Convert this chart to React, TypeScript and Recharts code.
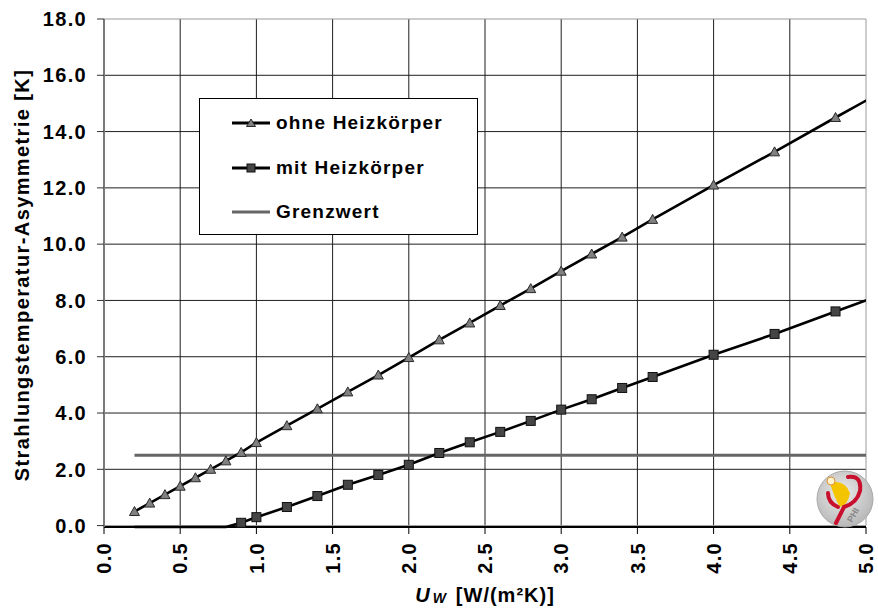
import React from 'react';
import { LineChart, Line, XAxis, YAxis, CartesianGrid, Legend, ReferenceArea } from 'recharts';

// U_W values [W/(m²K)]
const ohneX = [0.2, 0.3, 0.4, 0.5, 0.6, 0.7, 0.8, 0.9, 1.0, 1.2, 1.4, 1.6, 1.8, 2.0, 2.2, 2.4, 2.6, 2.8, 3.0, 3.2, 3.4, 3.6, 4.0, 4.4, 4.8, 5.2];
const ohneY = [0.5, 0.8, 1.1, 1.4, 1.7, 2.0, 2.3, 2.6, 2.95, 3.55, 4.15, 4.75, 5.35, 5.97, 6.6, 7.2, 7.82, 8.42, 9.04, 9.65, 10.25, 10.88, 12.1, 13.28, 14.5, 15.7];
const mitX = [0.2, 0.3, 0.4, 0.5, 0.6, 0.7, 0.8, 0.9, 1.0, 1.2, 1.4, 1.6, 1.8, 2.0, 2.2, 2.4, 2.6, 2.8, 3.0, 3.2, 3.4, 3.6, 4.0, 4.4, 4.8, 5.2];
const mitY = [-0.05, -0.05, -0.05, -0.05, -0.05, -0.05, -0.05, 0.1, 0.3, 0.66, 1.05, 1.45, 1.8, 2.16, 2.58, 2.96, 3.33, 3.72, 4.12, 4.49, 4.89, 5.28, 6.07, 6.81, 7.61, 8.4];
const grenzX = [0.2, 5.2];
const grenzY = [2.5, 2.5];

const xTicks = [0, 0.5, 1.0, 1.5, 2.0, 2.5, 3.0, 3.5, 4.0, 4.5, 5.0];
const yTicks = [0, 2, 4, 6, 8, 10, 12, 14, 16, 18];
const xGrid = [0.5, 1.0, 1.5, 2.0, 2.5, 3.0, 3.5, 4.0, 4.5];
const yGrid = [2, 4, 6, 8, 10, 12, 14, 16];

const seriesNames = ['ohne Heizkörper', 'mit Heizkörper', 'Grenzwert'];
const yTitle = 'Strahlungstemperatur-Asymmetrie [K]';

const ohneData = ohneX.map((x, i) => ({ x, y: ohneY[i] }));
const mitData = mitX.map((x, i) => ({ x, y: mitY[i] }));
const grenzData = grenzX.map((x, i) => ({ x, y: grenzY[i] }));

const FONT = '"Liberation Sans", Arial, Helvetica, sans-serif';

const TriangleDot = (props: any) => {
  const { cx, cy, payload, index } = props;
  if (cx == null || cy == null || payload.y <= 0) return <g key={`t${index}`} />;
  return (
    <polygon
      key={`t${index}`}
      points={`${cx},${cy - 5} ${cx - 5},${cy + 4} ${cx + 5},${cy + 4}`}
      fill="#808080"
      stroke="#2a2a2a"
      strokeWidth={1}
    />
  );
};

const SquareDot = (props: any) => {
  const { cx, cy, payload, index } = props;
  if (cx == null || cy == null || payload.y <= 0) return <g key={`s${index}`} />;
  return (
    <rect key={`s${index}`} x={cx - 4.5} y={cy - 4.5} width={9} height={9} fill="#454545" stroke="#111" strokeWidth={1} />
  );
};

const YTick = (props: any) => {
  const { x, y, payload } = props;
  return (
    <text x={x - 10} y={y} dy="0.36em" textAnchor="end" fontFamily={FONT} fontSize={20} fontWeight={700} letterSpacing={1.3} fill="#000">
      {Number(payload.value).toFixed(1)}
    </text>
  );
};

const XTick = (props: any) => {
  const { x, y, payload } = props;
  return (
    <text
      x={0}
      y={0}
      dy="0.36em"
      textAnchor="end"
      transform={`translate(${x},${y + 8}) rotate(-90)`}
      fontFamily={FONT}
      fontSize={20}
      fontWeight={700}
      letterSpacing={1.3}
      fill="#000"
    >
      {Number(payload.value).toFixed(1)}
    </text>
  );
};

const YTitle = (props: any) => {
  const vb = props.viewBox || {};
  const x = (vb.x || 0) + 29;
  const y = (vb.y || 0) + (vb.height || 0) / 2 + 2;
  return (
    <text
      x={x}
      y={y}
      textAnchor="middle"
      transform={`rotate(-90, ${x}, ${y})`}
      fontFamily={FONT}
      fontSize={20}
      fontWeight={700}
      letterSpacing={1.4}
      fill="#000"
    >
      {yTitle}
    </text>
  );
};

const XTitle = (props: any) => {
  const vb = props.viewBox || {};
  const x = (vb.x || 0) + (vb.width || 0) / 2;
  const y = (vb.y || 0) + 75;
  return (
    <text x={x} y={y} textAnchor="middle" fontFamily={FONT} fontSize={20} fontWeight={700} letterSpacing={1} fill="#000">
      <tspan fontStyle="italic">U</tspan>
      <tspan fontStyle="italic" fontSize={14} dy={1} dx={2}>W</tspan>
      <tspan dy={-1} dx={9}>[W/(m²K)]</tspan>
    </text>
  );
};

const legendRows = [
  { name: seriesNames[0], kind: 'tri' },
  { name: seriesNames[1], kind: 'sq' },
  { name: seriesNames[2], kind: 'plain' },
];

const LegendBox = () => (
  <div
    style={{
      position: 'relative',
      width: 279,
      height: 137,
      boxSizing: 'border-box',
      border: '1px solid #000',
      background: '#fff',
    }}
  >
    {legendRows.map((r, i) => (
      <div key={r.name} style={{ position: 'absolute', left: 0, top: 12 + i * 44.5, width: 277, height: 24 }}>
        <svg width={40} height={24} style={{ position: 'absolute', left: 31, top: 0 }}>
          <line x1={1} y1={12} x2={39} y2={12} stroke={r.kind === 'plain' ? '#666' : '#000'} strokeWidth={3} />
          {r.kind === 'tri' && <polygon points="20,8 15.5,15.5 24.5,15.5" fill="#808080" stroke="#2a2a2a" strokeWidth={1} />}
          {r.kind === 'sq' && <rect x={16} y={8} width={8} height={8} fill="#454545" stroke="#111" strokeWidth={1} />}
        </svg>
        <div
          style={{
            position: 'absolute',
            left: 76,
            top: 0,
            height: 24,
            lineHeight: '24px',
            fontFamily: FONT,
            fontSize: 19,
            fontWeight: 700,
            letterSpacing: '1.2px',
            color: '#000',
            whiteSpace: 'nowrap',
          }}
        >
          {r.name}
        </div>
      </div>
    ))}
  </div>
);

const Logo = () => (
  <svg width={62} height={64} style={{ position: 'absolute', left: 814, top: 467 }}>
    <defs>
      <radialGradient id="lg" cx="45%" cy="40%" r="60%">
        <stop offset="0%" stopColor="#ececec" />
        <stop offset="100%" stopColor="#b8b8b8" />
      </radialGradient>
    </defs>
    <circle cx={31} cy={32} r={28} fill="url(#lg)" stroke="#a8a8a8" strokeWidth={1} />
    <path d="M16 16 Q30 12 36 26 Q34 38 26 40 Q20 30 16 16 Z" fill="#f5c400" />
    <path d="M34 10 Q48 8 46 24 Q43 36 30 40 L22 56" fill="none" stroke="#c8102e" strokeWidth={4} strokeLinecap="round" />
    <path d="M14 26 Q14 36 24 40" fill="none" stroke="#c8102e" strokeWidth={4} strokeLinecap="round" />
    <circle cx={17} cy={14} r={4} fill="#fff3d0" stroke="#e09030" strokeWidth={1} />
    <text x={0} y={0} transform="translate(38,56) rotate(-60)" fontFamily={FONT} fontSize={9} fill="#888" fontWeight={700}>
      PHI
    </text>
  </svg>
);

export default function App() {
  return (
    <div style={{ position: 'absolute', left: 0, top: 0, width: 878, height: 608, background: '#fff' }}>
      <LineChart width={878} height={608} margin={{ top: 19, right: 12, bottom: 0, left: 0 }}>
        <CartesianGrid stroke="#1e1e1e" strokeWidth={1} horizontalValues={yGrid} verticalValues={xGrid} />
        <ReferenceArea x1={0} x2={5} y1={0} y2={18} fill="none" stroke="#9a9a9a" strokeWidth={1} />
        <XAxis
          type="number"
          dataKey="x"
          domain={[0, 5]}
          ticks={xTicks}
          allowDataOverflow
          height={81}
          tickSize={7}
          tickMargin={0}
          tick={<XTick />}
          axisLine={{ stroke: '#000', strokeWidth: 2 }}
          tickLine={{ stroke: '#000', strokeWidth: 1 }}
          label={{ content: (p: any) => <XTitle {...p} /> }}
        />
        <YAxis
          type="number"
          domain={[0, 18]}
          ticks={yTicks}
          width={104}
          tickSize={7}
          tickMargin={0}
          tick={<YTick />}
          axisLine={{ stroke: '#7a7a7a', strokeWidth: 2 }}
          tickLine={{ stroke: '#333', strokeWidth: 1 }}
          label={{ content: (p: any) => <YTitle {...p} /> }}
        />
        <Legend
          layout="vertical"
          align="center"
          verticalAlign="middle"
          wrapperStyle={{ left: 199, top: 98, width: 279, height: 137 }}
          content={() => <LegendBox />}
        />
        <Line
          data={grenzData}
          dataKey="y"
          name={seriesNames[2]}
          stroke="#666"
          strokeWidth={3}
          dot={false}
          activeDot={false}
          isAnimationActive={false}
        />
        <Line
          data={mitData}
          dataKey="y"
          name={seriesNames[1]}
          stroke="#000"
          strokeWidth={2.6}
          dot={SquareDot}
          activeDot={false}
          isAnimationActive={false}
        />
        <Line
          data={ohneData}
          dataKey="y"
          name={seriesNames[0]}
          stroke="#000"
          strokeWidth={2.6}
          dot={TriangleDot}
          activeDot={false}
          isAnimationActive={false}
        />
      </LineChart>
      <Logo />
    </div>
  );
}
